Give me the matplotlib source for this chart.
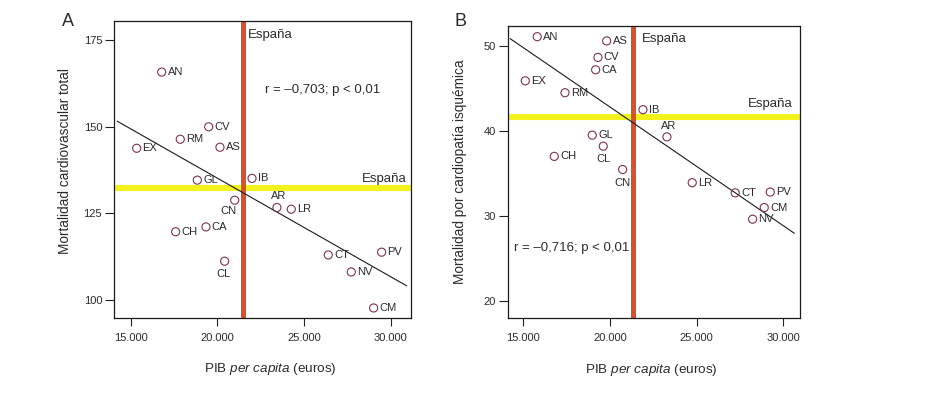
import matplotlib
matplotlib.use("Agg")
import matplotlib.pyplot as plt
from matplotlib.ticker import FuncFormatter

plt.rcParams['font.family'] = ['Liberation Sans', 'DejaVu Sans']
plt.rcParams['mathtext.fontset'] = 'custom'
plt.rcParams['mathtext.rm'] = 'Liberation Sans'
plt.rcParams['mathtext.it'] = 'Liberation Sans:italic'

# --- datos panel A: mortalidad cardiovascular total ---
regiones_a = ["AN", "CV", "RM", "EX", "AS", "GL", "IB", "CN", "AR", "LR",
              "CA", "CH", "CL", "CT", "PV", "NV", "CM"]
pib_a = [16790, 19500, 17860, 15345, 20150, 18845, 22000, 21000, 23437, 24263,
         19343, 17595, 20420, 26397, 29475, 27723, 29014]
mort_a = [165.8, 150.0, 146.4, 143.8, 144.1, 134.6, 135.1, 128.8, 126.7, 126.2,
          121.1, 119.7, 111.2, 113.0, 113.8, 108.1, 97.7]
recta_x_a = [14230, 30917]
recta_y_a = [151.6, 104.1]
espana_pib_a = 21461
espana_mort_a = 132.2

# --- datos panel B: mortalidad por cardiopatia isquemica ---
regiones_b = ["AN", "AS", "CV", "CA", "EX", "RM", "IB", "AR", "GL", "CL",
              "CH", "CN", "LR", "CT", "PV", "CM", "NV"]
pib_b = [15807, 19810, 19308, 19175, 15115, 17405, 21903, 23287, 18979, 19614,
         16788, 20732, 24746, 27226, 29245, 28899, 28229]
mort_b = [51.1, 50.6, 48.66, 47.2, 45.9, 44.5, 42.5, 39.3, 39.5, 38.2,
          37.0, 35.45, 33.9, 32.7, 32.8, 30.97, 29.6]
recta_x_b = [14250, 30629]
recta_y_b = [50.86, 27.95]
espana_pib_b = 21329
espana_mort_b = 41.66

# etiquetas que no van a la derecha del punto (desplazamiento en puntos)
offsets_a = {"CN": (-4.5, -8), "AR": (1.5, 8.5), "CL": (-0.5, -9.5)}
offsets_b = {"AR": (1.5, 7.5), "CL": (0, -9.5), "CN": (-0.5, -9.5)}

TXT = '#2b2b2b'
NARANJA = '#d8502c'
AMARILLO = '#f3f21c'
CIRCULO = '#7e3348'

fig = plt.figure(figsize=(9.32, 3.99), dpi=100)
ax_a = fig.add_axes([0.1223, 0.203, 0.3187, 0.744])
ax_b = fig.add_axes([0.5447, 0.203, 0.314, 0.7327])

miles = FuncFormatter(lambda v, p: f"{int(v):,}".replace(",", "."))


def panel(ax, x, y, regs, offs, rx, ry, esp_x, esp_y):
    ax.axhline(esp_y, color=AMARILLO, lw=4.4, zorder=1)
    ax.axvline(esp_x, color=NARANJA, lw=3.6, zorder=2)
    ax.plot(rx, ry, color='#1a1a1a', lw=0.8, zorder=3)
    ax.scatter(x, y, s=34, facecolors='none', edgecolors=CIRCULO,
               linewidths=0.8, zorder=4)
    for xi, yi, r in zip(x, y, regs):
        if r in offs:
            dx, dy = offs[r]
            ax.annotate(r, (xi, yi), xytext=(dx, dy), textcoords='offset points',
                        ha='center', va='center', fontsize=8, color=TXT)
        else:
            ax.annotate(r, (xi, yi), xytext=(4.2, 0), textcoords='offset points',
                        ha='left', va='center', fontsize=8, color=TXT)
    ax.xaxis.set_major_formatter(miles)
    ax.set_xticks([15000, 20000, 25000, 30000])
    ax.tick_params(axis='x', length=5.5, width=0.8, pad=5, labelsize=8,
                   colors='#222222', labelcolor=TXT)
    ax.tick_params(axis='y', length=6.5, width=0.8, pad=2, labelsize=8,
                   colors='#222222', labelcolor=TXT)
    for s in ax.spines.values():
        s.set_linewidth(0.9)
        s.set_color('#1a1a1a')
    ax.set_xlabel("PIB $\\it{per\\ capita}$ (euros)", fontsize=9.7, color=TXT)


panel(ax_a, pib_a, mort_a, regiones_a, offsets_a, recta_x_a, recta_y_a,
      espana_pib_a, espana_mort_a)
ax_a.set_xlim(14037, 31171)
ax_a.set_ylim(94.8, 180.5)
ax_a.set_yticks([100, 125, 150, 175])
ax_a.set_ylabel("Mortalidad cardiovascular total", fontsize=9.8, color=TXT)
ax_a.yaxis.set_label_coords(-0.14, 0.53)
ax_a.xaxis.set_label_coords(0.525, -0.145)
ax_a.text(21784, 176.5, "España", fontsize=9.5, color=TXT, va='center')
ax_a.text(30917, 134.9, "España", fontsize=9.5, color=TXT, va='center', ha='right')
ax_a.text(22748, 160.6, "r = \u20130,703; p < 0,01", fontsize=9.5, color=TXT,
          va='center')

panel(ax_b, pib_b, mort_b, regiones_b, offsets_b, recta_x_b, recta_y_b,
      espana_pib_b, espana_mort_b)
ax_b.set_xlim(14100, 30980)
ax_b.set_ylim(17.96, 52.4)
ax_b.set_yticks([20, 30, 40, 50])
ax_b.set_ylabel("Mortalidad por cardiopatía isquémica", fontsize=9.8, color=TXT)
ax_b.yaxis.set_label_coords(-0.138, 0.5)
ax_b.xaxis.set_label_coords(0.49, -0.15)
ax_b.text(21830, 50.83, "España", fontsize=9.5, color=TXT, va='center')
ax_b.text(30519, 43.16, "España", fontsize=9.5, color=TXT, va='center', ha='right')
ax_b.text(14463, 26.18, "r = \u20130,716; p < 0,01", fontsize=9.5, color=TXT,
          va='center')

fig.text(68 / 932, 1 - 22 / 399, "A", fontsize=13, color=TXT, ha='center', va='center')
fig.text(461 / 932, 1 - 22 / 399, "B", fontsize=13, color=TXT, ha='center', va='center')

fig.savefig("out.png", dpi=100)
